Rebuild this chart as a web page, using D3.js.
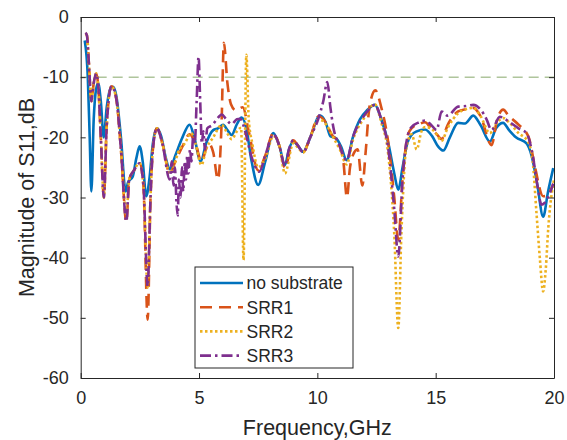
<!DOCTYPE html>
<html><head><meta charset="utf-8">
<script src="https://cdn.jsdelivr.net/npm/d3@7"></script>
<style>body{margin:0;background:#fff}svg{display:block}text{font-family:"Liberation Sans",Arial,sans-serif;fill:#262626}</style>
</head><body>
<script>
// ---------- DATA ----------
const xTicks = [0, 5, 10, 15, 20];
const yTicks = [0, -10, -20, -30, -40, -50, -60];
const seriesNames = ["no substrate", "SRR1", "SRR2", "SRR3"];
const thresholdDb = -10;

const noSubFreq = [0.17,0.3,0.38,0.45,0.55,0.65,0.74,0.85,0.97,1.1,1.25,1.36,1.5,1.7,1.9,2.0,2.2,2.35,2.49,2.62,2.77,2.9,3.05,3.22,3.4,3.6,3.76,4.0,4.3,4.6,4.8,5.07,5.3,5.6,5.8,6.02,6.2,6.38,6.6,6.8,7.0,7.2,7.5,7.8,8.14,8.4,8.63,8.8,8.98,9.2,9.4,9.7,10.11,10.35,10.55,10.8,11.0,11.24,11.5,11.8,12.1,12.43,12.7,13.0,13.25,13.42,13.6,13.8,13.98,14.2,14.55,14.85,15.1,15.32,15.6,15.95,16.24,16.59,16.9,17.29,17.55,17.85,18.1,18.39,18.84,19.05,19.3,19.54,19.75,19.97];
const noSubDb = [-3.9,-10,-20,-29,-17,-12,-11,-14,-20,-15,-12,-11.6,-13,-20,-29,-27.5,-26.5,-23.5,-21.5,-24,-29.8,-27,-21,-18.5,-19.8,-23.5,-25.3,-23,-20,-17.9,-20,-24,-21,-18.8,-18.5,-17.9,-18.8,-19.6,-17.8,-16.7,-18.5,-23.5,-27.9,-24,-19.3,-21.5,-24.6,-22,-20.7,-21.5,-22.4,-20,-16.4,-17.5,-19.8,-20.2,-21.5,-23.8,-20,-17,-15.5,-14.6,-17,-21,-26,-28.7,-25,-21,-19.6,-19,-18.7,-19.8,-21.5,-22.2,-20,-17.6,-17.7,-16.4,-18,-20.7,-18.5,-17.6,-18.8,-20,-21,-23,-28,-33.2,-29,-25.1];

const srr1Freq = [0.2,0.26,0.35,0.45,0.55,0.66,0.75,0.85,0.98,1.1,1.3,1.5,1.7,1.93,2.05,2.25,2.49,2.65,2.83,2.95,3.05,3.22,3.45,3.76,4.0,4.3,4.6,4.85,5.1,5.4,5.6,5.8,5.95,6.05,6.2,6.35,6.55,6.85,7.1,7.5,7.8,8.14,8.4,8.63,8.98,9.2,9.4,9.7,10.05,10.35,10.6,10.9,11.1,11.25,11.38,11.5,11.7,11.9,12.05,12.2,12.45,12.7,13.0,13.25,13.42,13.6,13.8,13.98,14.3,14.55,14.8,15.05,15.25,15.5,15.95,16.3,16.59,16.9,17.36,17.6,17.85,18.1,18.45,18.93,19.2,19.54,19.7,19.97];
const srr1Db = [-2.8,-3,-8,-14,-11,-9.4,-12,-20,-30,-18,-11.5,-13.5,-22,-34,-27,-25.5,-24.3,-28,-50.3,-30,-22,-18.5,-21,-26,-24,-21.5,-19.5,-21,-24,-21,-22.5,-27,-18,-4.3,-11,-14.5,-15.5,-15,-19,-25.5,-23,-19.3,-21.5,-25,-20.5,-21.5,-22.5,-20,-16.5,-17.5,-19.5,-21,-24,-30,-25,-23,-22,-28,-22,-15,-12.2,-15,-21,-30,-37,-27,-20,-18.5,-17.8,-17.5,-18.5,-19.5,-20.3,-18,-15.7,-15.3,-15.1,-16.5,-21.3,-17,-15.4,-16.5,-17.7,-20,-25,-29.8,-29.7,-27.7];

const srr2Freq = [0.2,0.26,0.35,0.45,0.55,0.66,0.75,0.85,0.98,1.1,1.3,1.5,1.7,1.93,2.05,2.25,2.49,2.65,2.83,2.95,3.05,3.22,3.45,3.76,4.0,4.11,4.4,4.67,4.85,5.1,5.3,5.6,5.96,6.15,6.38,6.6,6.78,6.88,7.0,7.1,7.25,7.5,7.8,8.14,8.4,8.63,8.98,9.2,9.4,9.7,10.05,10.4,10.67,10.95,11.24,11.5,11.94,12.43,12.7,13.0,13.25,13.42,13.55,13.75,13.98,14.2,14.4,14.55,14.8,15.04,15.25,15.5,15.95,16.3,16.59,16.9,17.29,17.6,17.85,18.1,18.5,18.9,19.1,19.26,19.4,19.54,19.65,19.76,20.0];
const srr2Db = [-2.7,-3,-8,-14,-11,-9.4,-12,-20,-30,-18,-11.5,-13.5,-22,-33,-27,-25.5,-24.3,-28,-45,-30,-22,-18.5,-21,-26,-24,-22.6,-21,-19.3,-21,-24.6,-22,-20,-17.9,-19,-20.3,-19,-18.4,-40.4,-6.3,-17,-21,-25,-23.5,-19.8,-21.5,-26,-21,-21.8,-22.5,-20,-17,-18,-20,-22,-24.5,-20.5,-17,-14.5,-17.5,-23,-36,-51.7,-36,-22,-19.5,-22,-19,-18.3,-18.5,-19.5,-20.6,-18.5,-16,-15.3,-15.1,-16.5,-19.3,-17.5,-16.8,-17.5,-19.3,-20.7,-24,-32.6,-40,-45.6,-42,-35,-27];

const srr3Freq = [0.2,0.26,0.35,0.45,0.55,0.66,0.75,0.85,0.98,1.1,1.3,1.5,1.7,1.93,2.05,2.25,2.49,2.65,2.83,2.95,3.05,3.22,3.45,3.76,3.85,3.92,3.98,4.05,4.1,4.15,4.22,4.28,4.33,4.4,4.45,4.5,4.55,4.62,4.68,4.75,4.82,4.9,4.98,5.05,5.12,5.18,5.25,5.35,5.55,5.75,5.96,6.15,6.38,6.6,6.74,6.95,7.2,7.55,7.8,8.14,8.4,8.63,8.8,8.98,9.2,9.4,9.7,10.05,10.25,10.42,10.55,10.67,10.95,11.24,11.5,11.94,12.2,12.43,12.7,13.0,13.25,13.42,13.6,13.8,13.98,14.3,14.55,14.8,15.04,15.25,15.5,15.95,16.3,16.59,16.9,17.15,17.36,17.71,18.1,18.5,18.84,19.1,19.3,19.47,19.6,19.8,19.97];
const srr3Db = [-2.6,-3,-8,-14,-11,-9.4,-12,-20,-30,-18,-11.5,-13.5,-22,-34,-27,-25.5,-24.3,-28,-44.8,-30,-22,-18.5,-21,-27,-24,-28,-25,-31,-33,-27,-30,-25,-29,-24,-27,-23,-26,-22,-24,-20,-21,-14,-6.6,-14,-21,-19,-22,-18.5,-18,-17,-16.2,-17,-17.8,-17,-16.9,-19,-23,-25.7,-23,-19.5,-21.5,-24.8,-22,-20.5,-21.5,-22.5,-20,-16.8,-14,-10.8,-15,-18.2,-21.5,-23.8,-20,-16.6,-15.3,-14.6,-17,-22,-32,-39.8,-27,-20,-18.3,-17.5,-17.2,-17.9,-18.8,-15.7,-16.4,-14.9,-14.8,-14.6,-15.4,-17,-18.8,-16.6,-17.4,-18.5,-19.3,-23,-28,-31.2,-30.9,-29.5,-27.7];

// ---------- LAYOUT ----------
const W = 567, H = 440;
const m = {left: 80.7, top: 17, right: 567 - 554, bottom: 440 - 378};
const iw = W - m.left - m.right, ih = H - m.top - m.bottom;

const svg = d3.select("body").append("svg").attr("width", W).attr("height", H);
const g = svg.append("g").attr("transform", `translate(${m.left},${m.top})`);

const x = d3.scaleLinear().domain([0, 20]).range([0, iw]);
const y = d3.scaleLinear().domain([-60, 0]).range([ih, 0]);

g.append("defs").append("clipPath").attr("id", "clip")
  .append("rect").attr("width", iw).attr("height", ih);

// threshold line
g.append("line").attr("x1", 0).attr("x2", iw)
  .attr("y1", y(thresholdDb)).attr("y2", y(thresholdDb))
  .attr("stroke", "#86a86a").attr("stroke-width", 1).attr("stroke-dasharray", "10,6");

const series = [
  {name: seriesNames[0], f: noSubFreq, v: noSubDb, color: "#0072BD", dash: null},
  {name: seriesNames[1], f: srr1Freq, v: srr1Db, color: "#D95319", dash: "12,7"},
  {name: seriesNames[2], f: srr2Freq, v: srr2Db, color: "#EDB120", dash: "2.5,2.5"},
  {name: seriesNames[3], f: srr3Freq, v: srr3Db, color: "#7E2F8E", dash: "11,4,2.5,4"}
];

const line = d3.line().x(d => x(d[0])).y(d => y(d[1])).curve(d3.curveMonotoneX);
const plot = g.append("g").attr("clip-path", "url(#clip)");
series.forEach(s => {
  const pts = s.f.map((f, i) => [f, s.v[i]]);
  plot.append("path").datum(pts).attr("d", line)
    .attr("fill", "none").attr("stroke", s.color).attr("stroke-width", 2.6)
    .attr("stroke-linejoin", "round")
    .attr("stroke-dasharray", s.dash);
});

// axes
const axCol = "#262626";
const fmt = d => String(d);
const xAxis = g.append("g").attr("transform", `translate(0,${ih})`)
  .call(d3.axisBottom(x).tickValues(xTicks).tickFormat(fmt).tickSizeInner(-5).tickSizeOuter(0).tickPadding(13));
const yAxis = g.append("g")
  .call(d3.axisLeft(y).tickValues(yTicks).tickFormat(fmt).tickSizeInner(-5).tickSizeOuter(0).tickPadding(12));
const xTop = g.append("g").call(d3.axisTop(x).tickValues(xTicks).tickSizeInner(-5).tickSizeOuter(0).tickFormat(""));
const yRight = g.append("g").attr("transform", `translate(${iw},0)`)
  .call(d3.axisRight(y).tickValues(yTicks).tickSizeInner(-5).tickSizeOuter(0).tickFormat(""));
[xAxis, yAxis, xTop, yRight].forEach(a => {
  a.selectAll(".domain").attr("stroke", axCol).attr("stroke-width", 1);
  a.selectAll(".tick line").attr("stroke", axCol).attr("stroke-width", 1);
  a.selectAll("text").style("font-size", "18px").attr("fill", axCol)
    .style("font-family", '"Liberation Sans", Arial, sans-serif');
});

// labels
svg.append("text").attr("x", m.left + iw / 2).attr("y", 435)
  .attr("text-anchor", "middle").style("font-size", "21.5px").text("Frequency,GHz");
svg.append("text").attr("transform", `translate(34,${m.top + ih / 2}) rotate(-90)`)
  .attr("text-anchor", "middle").style("font-size", "21.5px").text("Magnitude of S11,dB");

// legend
const lg = svg.append("g").attr("transform", "translate(195,267)");
lg.append("rect").attr("width", 158).attr("height", 101)
  .attr("fill", "#fff").attr("stroke", axCol).attr("stroke-width", 1);
series.forEach((s, i) => {
  const yy = 16 + i * 24.2;
  lg.append("line").attr("x1", 5).attr("x2", 48).attr("y1", yy).attr("y2", yy)
    .attr("stroke", s.color).attr("stroke-width", 2.6).attr("stroke-dasharray", s.dash);
  lg.append("text").attr("x", 51.5).attr("y", yy).attr("dy", "0.36em")
    .style("font-size", "17.5px").text(s.name);
});
</script>
</body></html>
